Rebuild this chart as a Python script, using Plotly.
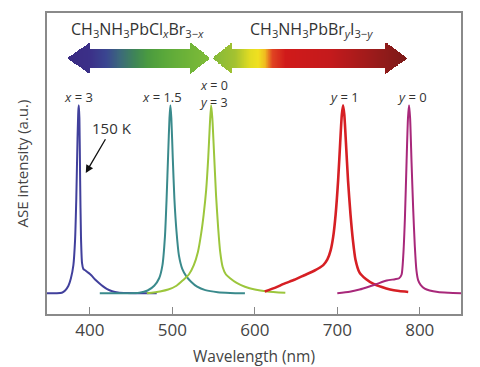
import plotly.graph_objects as go
import numpy as np

# ---- data ----
blue_x = [348, 360, 366, 370, 374, 377, 380, 382, 383.5, 385, 386, 386.6, 387.3, 388.2, 389.2, 390.5, 392, 395, 398, 402, 406, 411, 416, 421, 427, 434, 445, 460, 481]
blue_y = [0, 0, 0.003, 0.015, 0.04, 0.08, 0.15, 0.28, 0.5, 0.82, 0.97, 1.0, 0.93, 0.6, 0.3, 0.16, 0.13, 0.12, 0.11, 0.095, 0.075, 0.055, 0.037, 0.022, 0.011, 0.004, 0.001, 0, 0]

teal_x = [412, 440, 460, 470, 478, 484, 488, 491, 493, 495, 496.5, 497.6, 498.8, 500.5, 502.5, 505, 508, 512, 517, 523, 530, 540, 555, 570, 588]
teal_y = [0, 0, 0.003, 0.015, 0.04, 0.08, 0.15, 0.3, 0.5, 0.75, 0.93, 1.0, 0.93, 0.72, 0.5, 0.33, 0.2, 0.13, 0.09, 0.06, 0.035, 0.017, 0.006, 0.002, 0]

green_x = [469, 485, 495, 505, 513, 520, 526, 531, 535, 538, 541, 543.5, 545.5, 547, 548.5, 550.5, 553, 555.5, 558, 561, 565, 570, 578, 588, 600, 615, 637]
green_y = [0, 0.01, 0.02, 0.04, 0.07, 0.1, 0.15, 0.22, 0.32, 0.42, 0.55, 0.72, 0.9, 1.0, 0.93, 0.75, 0.52, 0.35, 0.22, 0.14, 0.1, 0.08, 0.055, 0.035, 0.02, 0.01, 0.003]

red_x = [612, 625, 635, 648, 660, 672, 683, 688, 692, 695, 698, 701, 703.5, 705.5, 707, 708.5, 710.5, 713, 716, 719, 722, 727, 735, 744, 754, 764, 775, 786]
red_y = [0.01, 0.03, 0.05, 0.072, 0.096, 0.12, 0.15, 0.18, 0.23, 0.3, 0.42, 0.6, 0.8, 0.95, 1.0, 0.95, 0.8, 0.6, 0.42, 0.28, 0.18, 0.11, 0.075, 0.05, 0.033, 0.02, 0.012, 0.007]

purple_x = [700, 715, 727, 738, 748, 760, 770, 775, 778, 780, 782, 784, 785.7, 787, 788.3, 790, 792, 794, 796, 798, 801, 806, 812, 822, 835, 850]
purple_y = [0, 0.008, 0.02, 0.035, 0.05, 0.068, 0.075, 0.08, 0.1, 0.2, 0.4, 0.7, 0.93, 1.0, 0.93, 0.7, 0.45, 0.25, 0.12, 0.07, 0.045, 0.025, 0.015, 0.007, 0.003, 0]

series = [
    (blue_x, blue_y, "#41409c", 2.0),
    (teal_x, teal_y, "#3a8a8c", 2.0),
    (green_x, green_y, "#9cc63c", 2.0),
    (red_x, red_y, "#d61f24", 2.6),
    (purple_x, purple_y, "#a8287a", 2.0),
]

peak_labels = ["<i>x</i> = 3", "<i>x</i> = 1.5", "<i>x</i> = 0", "<i>y</i> = 3", "<i>y</i> = 1", "<i>y</i> = 0"]
peak_label_x = [386.6, 487, 550, 550, 708, 791]
peak_label_y = [1.043, 1.043, 1.105, 1.012, 1.043, 1.043]
peak_label_size = [13, 13, 12.5, 12.5, 13, 13]

tick_vals = [400, 500, 600, 700, 800]

FONT = "Open Sans"

fig = go.Figure()

# ---- gradient double arrows (heatmap mask) ----
yc, head_h, body_h = 1.25, 0.085, 0.053
L0, L1, L2, L3 = 372.3, 400.2, 521.5, 545.8
R0, R1, R2, R3 = 548.2, 572.5, 758.0, 785.0
xs = np.arange(370, 788, 0.5)
ys = np.arange(yc - 0.095, yc + 0.095, 0.004)
Z = np.full((len(ys), len(xs)), np.nan)
for j, x in enumerate(xs):
    h = None
    if L0 <= x < L1:
        h = head_h * (x - L0) / (L1 - L0)
    elif L1 <= x < L2:
        h = body_h
    elif L2 <= x <= L3:
        h = head_h * (L3 - x) / (L3 - L2)
    elif R0 <= x < R1:
        h = head_h * (x - R0) / (R1 - R0)
    elif R1 <= x < R2:
        h = body_h
    elif R2 <= x <= R3:
        h = head_h * (R3 - x) / (R3 - R2)
    if h is None:
        continue
    for i, y in enumerate(ys):
        if abs(y - yc) <= h:
            Z[i, j] = x

stops_nm = [372.3, 400, 420, 437, 455, 470, 490, 521, 545.8, 548.2, 576, 594, 604, 612, 621, 637, 691, 740, 785]
stops_col = ["#3a2b82", "#3b3088", "#3a4690", "#3c6a7a", "#3f8656", "#4a9a40", "#5aa83a", "#70b438", "#80bc38",
             "#82b93a", "#a4c230", "#e2dc22", "#f0e020", "#f0bc20", "#e04422", "#d01a1a", "#c41a1c", "#9e1b1b", "#7a1a18"]
zmin, zmax = stops_nm[0], stops_nm[-1]
cs = [[(s - zmin) / (zmax - zmin), c] for s, c in zip(stops_nm, stops_col)]
fig.add_trace(go.Heatmap(x=xs, y=ys, z=Z, colorscale=cs, zmin=zmin, zmax=zmax, showscale=False,
                         hoverinfo="skip", zsmooth=False))

# ---- spectra ----
for sx, sy, col, w in series:
    fig.add_trace(go.Scatter(x=sx, y=sy, mode="lines", line=dict(color=col, width=w, shape="spline", smoothing=0.6),
                             hoverinfo="skip", showlegend=False))

# ---- annotations ----
for t, x, y, s in zip(peak_labels, peak_label_x, peak_label_y, peak_label_size):
    fig.add_annotation(x=x, y=y, text=t, showarrow=False, font=dict(family=FONT, size=s, color="#333"))

fig.add_annotation(x=458, y=1.404, text="CH<sub>3</sub>NH<sub>3</sub>PbCl<sub><i>x</i></sub>Br<sub>3−<i>x</i></sub>",
                   showarrow=False, font=dict(family=FONT, size=16, color="#333"))
fig.add_annotation(x=669, y=1.404, text="CH<sub>3</sub>NH<sub>3</sub>PbBr<sub><i>y</i></sub>I<sub>3−<i>y</i></sub>",
                   showarrow=False, font=dict(family=FONT, size=16, color="#333"))

fig.add_annotation(x=395, y=0.64, ax=427, ay=0.88, axref="x", ayref="y", text="150 K", showarrow=True,
                   arrowhead=2, arrowsize=1.2, arrowwidth=1.3, arrowcolor="#111",
                   font=dict(family=FONT, size=15, color="#333"))

# the page body adds an 8 px margin, so the figure is sized/offset to compensate
fig.update_layout(
    width=472, height=359,
    margin=dict(l=39, r=19, t=5, b=53),
    paper_bgcolor="white", plot_bgcolor="white",
    showlegend=False,
    font=dict(family=FONT, size=15, color="#444"),
    xaxis=dict(range=[348, 850], tickvals=tick_vals, ticks="inside", ticklen=7, tickcolor="#888", tickwidth=1.3,
               showline=True, linecolor="#8a8a8a", linewidth=1.5, mirror=True, showgrid=False, zeroline=False,
               automargin=False,
               title=dict(text="Wavelength (nm)", font=dict(family=FONT, size=15.5, color="#444"), standoff=11),
               tickfont=dict(family=FONT, size=17, color="#444")),
    yaxis=dict(range=[-0.11, 1.49], showticklabels=False, ticks="", showline=True, linecolor="#8a8a8a",
               linewidth=1.5, mirror=True, showgrid=False, zeroline=False, automargin=False,
               title=dict(text="ASE intensity (a.u.)", font=dict(family=FONT, size=15, color="#444"), standoff=13)),
)

fig.write_html("out.html")
